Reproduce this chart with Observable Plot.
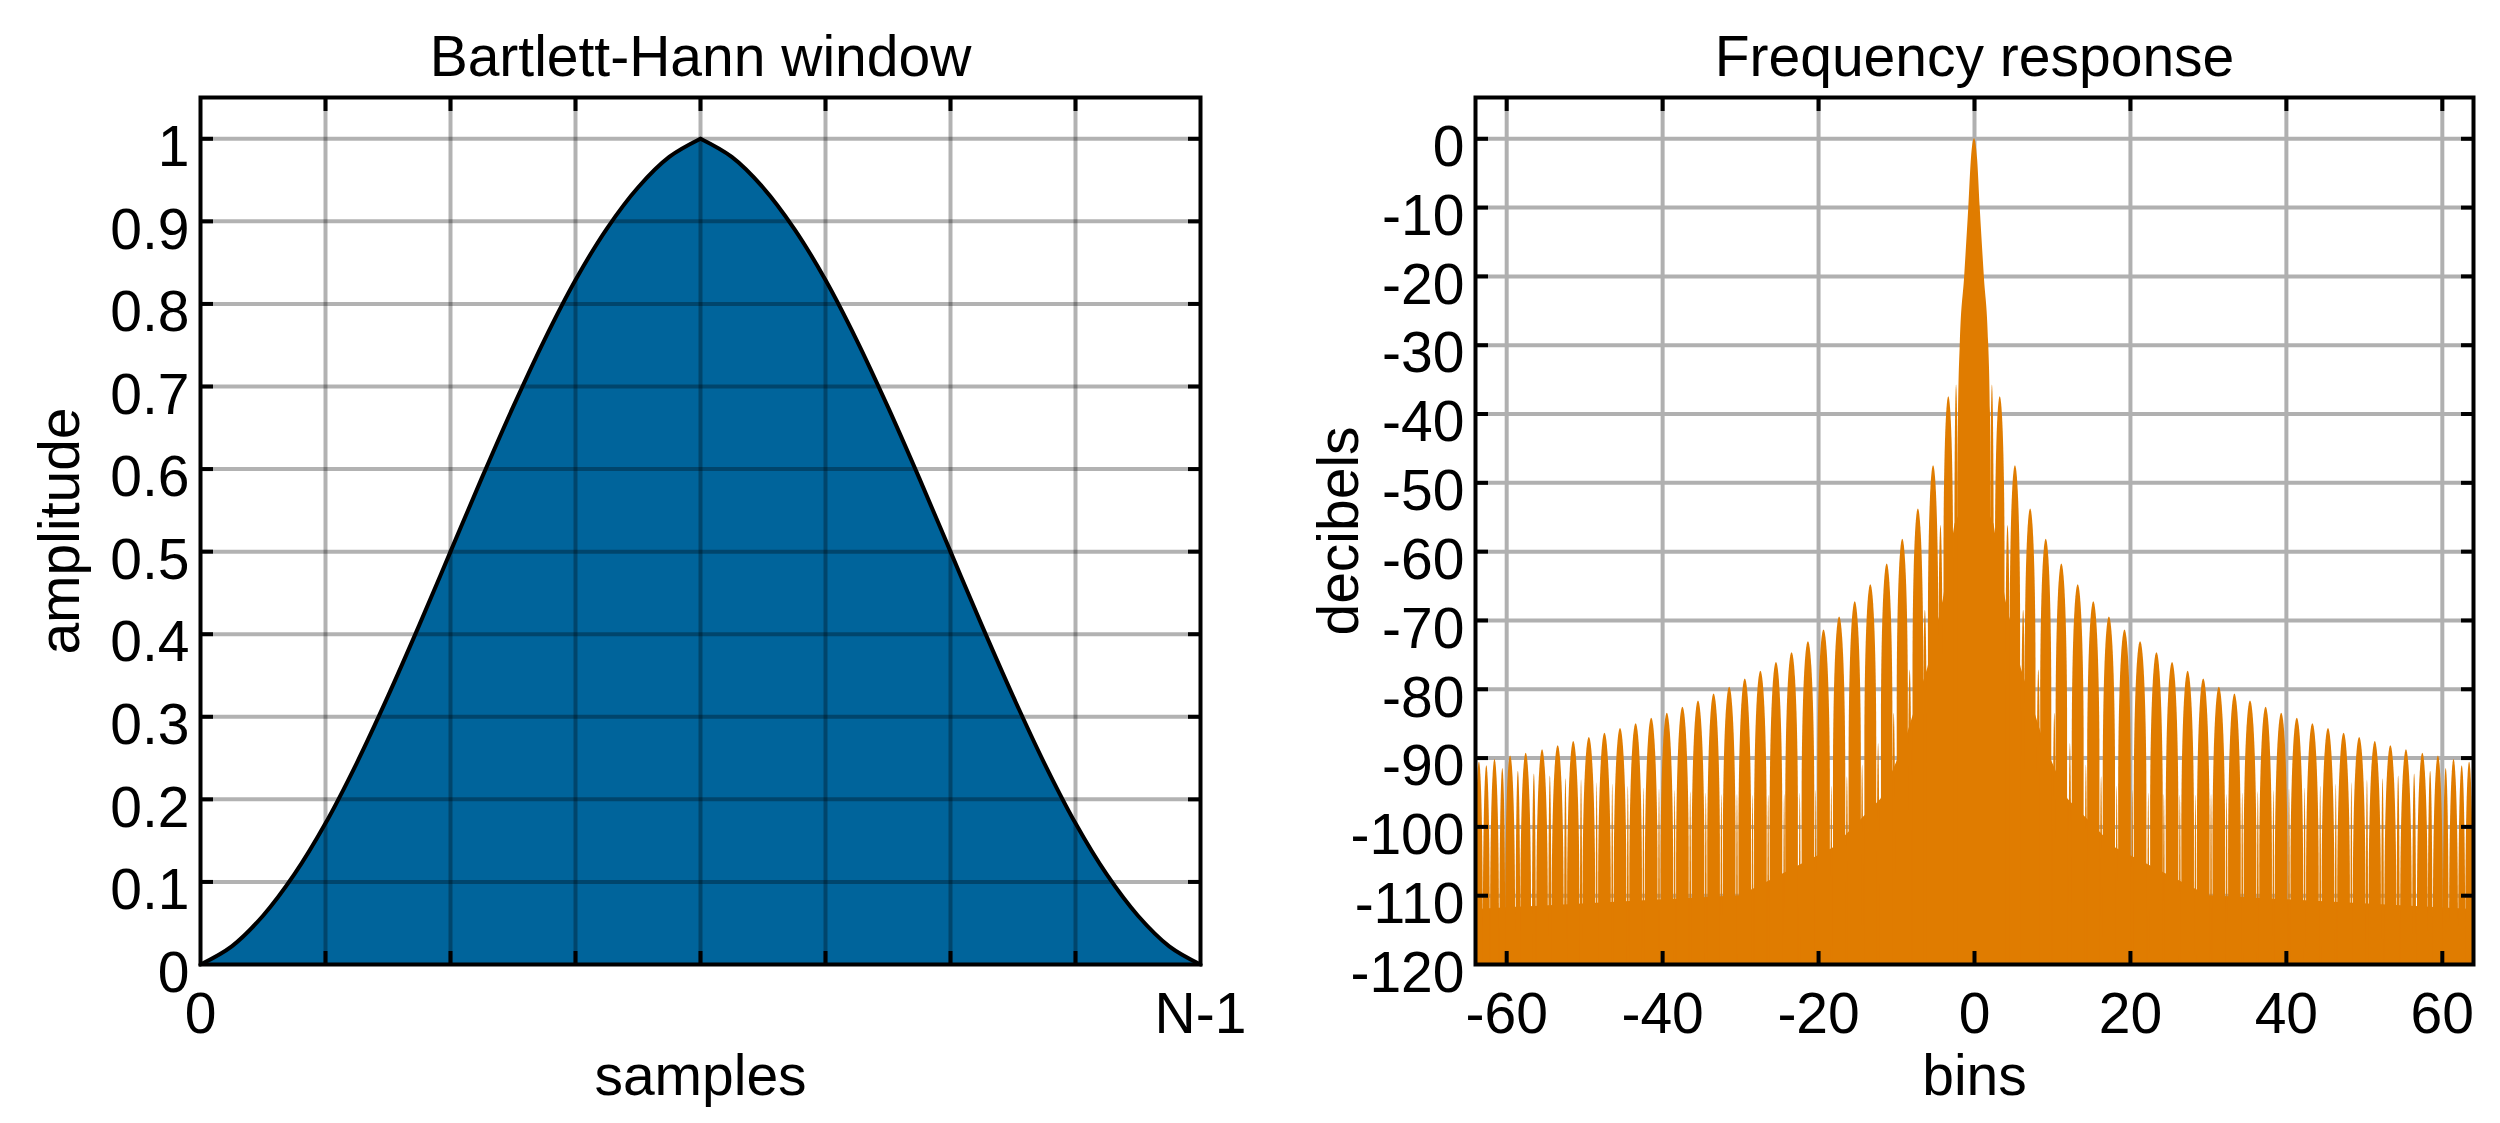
<!DOCTYPE html>
<html><head><meta charset="utf-8">
<script src="https://cdn.jsdelivr.net/npm/d3@7"></script>
<script src="https://cdn.jsdelivr.net/npm/@observablehq/plot@0.6"></script>
<style>
html,body{margin:0;padding:0;background:#fff;}
#wrap{position:relative;width:2500px;height:1123px;overflow:hidden;background:#fff;}
#left{position:absolute;left:0;top:0;}
#right{position:absolute;left:1300px;top:0;}
</style></head><body>
<div id="wrap"><div id="left"></div><div id="right"></div></div>
<script>
// ---------- Left panel data: Bartlett-Hann window ----------
const samplePos = [0,1,2,3,4,5,6,7,8,9,10,11,12,13,14,15,16,17,18,19,20,21,22,23,24,25,26,27,28,29,30,31,32];
const amplitude = [0,0.022,0.059,0.109,0.171,0.244,0.325,0.411,0.5,0.589,0.675,0.756,0.829,0.891,0.941,0.978,1,
                   0.978,0.941,0.891,0.829,0.756,0.675,0.589,0.5,0.411,0.325,0.244,0.171,0.109,0.059,0.022,0];
const sampleGrid = [4,8,12,16,20,24,28];
const sampleLabelPos = [0,32];
const sampleLabels = ["0","N-1"];
const ampTicks = [0,0.1,0.2,0.3,0.4,0.5,0.6,0.7,0.8,0.9,1];
const ampGrid = [0.1,0.2,0.3,0.4,0.5,0.6,0.7,0.8,0.9,1];

// ---------- Right panel data: frequency response (positive side; mirrored) ----------
const mainBins = [-2.15,-2.05,-1.83,-1.26,-0.73,-0.4,0,0.4,0.73,1.26,1.83,2.05,2.15];
const mainDb   = [-60,-40,-30,-20,-10,-3,0,-3,-10,-20,-30,-40,-60];

const bigBins = [3.3,5.25,7.2,9.2,11.2,13.3,15.3,17.3,19.3,21.3,23.4,25.4,27.4,29.4,31.4,33.4,35.4,37.4,39.4,41.4,43.4,45.4,47.4,49.4,51.4,53.4,55.4,57.5,59.5,61.5,63.5];
const bigDb   = [-37.5,-47.5,-53.8,-58.2,-61.8,-64.8,-67.3,-69.5,-71.4,-73.1,-74.7,-76.1,-77.4,-78.5,-79.7,-80.7,-81.7,-82.6,-83.5,-84.2,-85.0,-85.7,-86.4,-87.0,-87.6,-88.2,-88.8,-89.3,-89.7,-90.2,-90.6];
const bigWidth = [1.3,1.4,1.45,1.5,1.55,1.6,1.65,1.65,1.7,1.7,1.7,1.7,1.7,1.7,1.7,1.7,1.7,1.7,1.7,1.7,1.7,1.7,1.7,1.7,1.65,1.6,1.55,1.45,1.35,1.2,1.05];

const smallBins = [2.3,4.3,6.3,8.25,10.3,12.3,14.35,16.3,18.3,20.3,22.35,24.35,26.4,28.4,30.4,32.4,34.4,36.4,38.4,40.4,42.4,44.4,46.4,48.4,50.4,52.4,54.4,56.45,58.5,60.5,62.55];
const smallDb   = [-35.8,-56.2,-68.5,-77.2,-83.5,-87.9,-91.0,-92.7,-94.1,-94.7,-95.1,-95.3,-95.4,-95.4,-95.3,-95.3,-95.1,-94.9,-94.7,-94.5,-94.4,-94.1,-93.8,-93.6,-93.2,-93.0,-92.6,-92.3,-91.9,-91.5,-91.1];
const smallWidth = [0.5,0.6,0.55,0.5,0.45,0.4,0.35,0.35,0.3,0.3,0.3,0.3,0.3,0.3,0.3,0.3,0.3,0.3,0.3,0.3,0.3,0.3,0.3,0.3,0.35,0.4,0.45,0.55,0.65,0.8,0.95];

const floorBins = [-64,-30,-18,-12,-9,-6,-4,-2.5,0,2.5,4,6,9,12,18,30,64];
const floorDb   = [-112,-110,-103,-96,-88,-77,-67,-56,-50,-56,-67,-77,-88,-96,-103,-110,-112];

const binTicks = [-60,-40,-20,0,20,40,60];
const dbTicks = [0,-10,-20,-30,-40,-50,-60,-70,-80,-90,-100,-110,-120];
const dbGrid = [0,-10,-20,-30,-40,-50,-60,-70,-80,-90,-100,-110];

// ---------- styling ----------
const FONT = "'Liberation Sans', Arial, Helvetica, sans-serif";
const BLUE = "#00649b";
const ORANGE = "#e07c00";
const FS = 57;

// tables built from the arrays (window split at its peak so the top stays pointed)
const peakIndex = amplitude.indexOf(Math.max(...amplitude));
const windowRows = [];
samplePos.forEach((n, i) => {
  if (i <= peakIndex) windowRows.push({n, w: amplitude[i], half: "a"});
  if (i >= peakIndex) windowRows.push({n, w: amplitude[i], half: "b"});
});
const mainRows = mainBins.map((bin, i) => ({bin, db: mainDb[i]}));
const floorRows = floorBins.map((bin, i) => ({bin, db: floorDb[i]}));
const lobes = [];
function addLobes(bins, dbs, widths) {
  bins.forEach((b, i) => {
    for (const s of [1, -1]) lobes.push({x1: s * b - widths[i] / 2, x2: s * b + widths[i] / 2, db: dbs[i]});
  });
}
addLobes(bigBins, bigDb, bigWidth);
addLobes(smallBins, smallDb, smallWidth);

function frameTicks(xVals, yVals) {
  const o = {tickSize: 13, strokeWidth: 4, tickFormat: () => "", label: null, stroke: "black"};
  return [
    Plot.axisY(yVals, {...o, anchor: "left", dx: 13}),
    Plot.axisY(yVals, {...o, anchor: "right", dx: -13}),
    Plot.axisX(xVals, {...o, anchor: "top", dy: 13}),
    Plot.axisX(xVals, {...o, anchor: "bottom", dy: -13})
  ];
}
const txt = (s, opts) => Plot.text([s], {text: d => d, fontSize: FS, fill: "black", textAnchor: "middle", ...opts});

const left = Plot.plot({
  width: 1300, height: 1123,
  marginLeft: 200, marginRight: 100, marginTop: 97, marginBottom: 159,
  style: {fontFamily: FONT, fontSize: FS + "px", background: "white", color: "black", overflow: "visible"},
  x: {domain: [0, 32]},
  y: {domain: [0, 1.05]},
  marks: [
    Plot.areaY(windowRows, {x: "n", y1: 0, y2: "w", z: "half", curve: "catmull-rom", fill: BLUE, stroke: BLUE, strokeWidth: 1}),
    Plot.gridX(sampleGrid, {stroke: "black", strokeOpacity: 0.3, strokeWidth: 4}),
    Plot.gridY(ampGrid, {stroke: "black", strokeOpacity: 0.3, strokeWidth: 4}),
    Plot.lineY(windowRows, {x: "n", y: "w", z: "half", curve: "catmull-rom", stroke: "black", strokeWidth: 4}),
    ...frameTicks(sampleGrid, ampGrid),
    Plot.axisY(ampTicks, {anchor: "left", tickSize: 0, tickPadding: 11, dy: 9, fontSize: FS, tickFormat: d => String(d), label: null}),
    Plot.axisX(sampleLabelPos, {anchor: "bottom", tickSize: 0, tickPadding: 28, fontSize: FS, tickFormat: d => sampleLabels[sampleLabelPos.indexOf(d)], label: null}),
    txt("Bartlett-Hann window", {frameAnchor: "top", dy: -22, lineAnchor: "bottom"}),
    txt("samples", {frameAnchor: "bottom", dy: 130, lineAnchor: "bottom"}),
    txt("amplitude", {frameAnchor: "left", dx: -122, rotate: -90, lineAnchor: "bottom"}),
    Plot.frame({stroke: "black", strokeWidth: 4})
  ]
});
document.getElementById("left").appendChild(left);

const right = Plot.plot({
  width: 1200, height: 1123,
  marginLeft: 175, marginRight: 27, marginTop: 97, marginBottom: 159,
  style: {fontFamily: FONT, fontSize: FS + "px", background: "white", color: "black", overflow: "visible"},
  x: {domain: [-64, 64]},
  y: {domain: [-120, 6]},
  marks: [
    Plot.gridX(binTicks, {stroke: "#b0b0b0", strokeOpacity: 1, strokeWidth: 4}),
    Plot.gridY(dbGrid, {stroke: "#b0b0b0", strokeOpacity: 1, strokeWidth: 4}),
    Plot.areaY(floorRows, {x: "bin", y1: -120, y2: "db", fill: ORANGE, clip: true}),
    Plot.areaY(mainRows, {x: "bin", y1: -120, y2: "db", curve: "monotone-x", fill: ORANGE, clip: true}),
    Plot.rect(lobes, {x1: "x1", x2: "x2", y1: -170, y2: "db", fill: ORANGE, rx: 40, ry: 160, insetLeft: 0.3, insetRight: 0.3, clip: true}),
    ...frameTicks(binTicks, dbGrid),
    Plot.axisY(dbTicks, {anchor: "left", tickSize: 0, tickPadding: 11, dy: 9, fontSize: FS, tickFormat: d => String(d), label: null}),
    Plot.axisX(binTicks, {anchor: "bottom", tickSize: 0, tickPadding: 28, fontSize: FS, tickFormat: d => String(d), label: null}),
    txt("Frequency response", {frameAnchor: "top", dy: -22, lineAnchor: "bottom"}),
    txt("bins", {frameAnchor: "bottom", dy: 130, lineAnchor: "bottom"}),
    txt("decibels", {frameAnchor: "left", dx: -118, rotate: -90, lineAnchor: "bottom"}),
    Plot.frame({stroke: "black", strokeWidth: 4})
  ]
});
document.getElementById("right").appendChild(right);
</script></body></html>
